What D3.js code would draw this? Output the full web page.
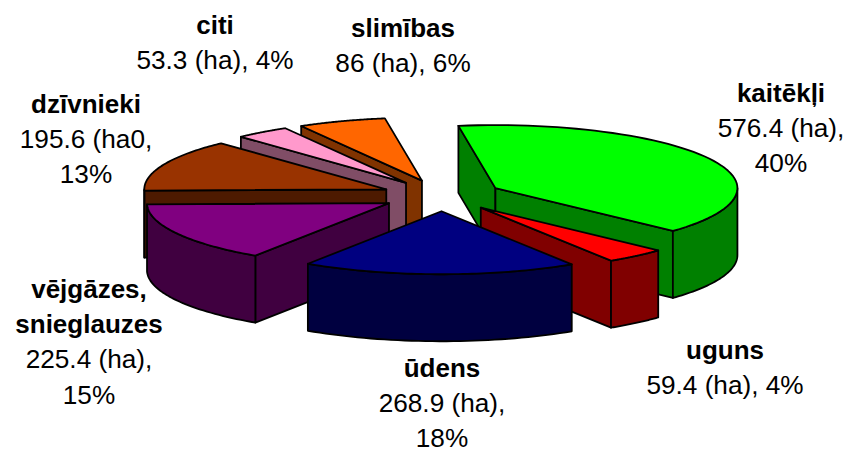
<!DOCTYPE html>
<html><head><meta charset="utf-8">
<script src="https://cdn.jsdelivr.net/npm/d3@7/dist/d3.min.js"></script>
<style>html,body{margin:0;padding:0;background:#fff}svg{display:block}</style>
</head><body><svg id="c" width="845" height="449"></svg>
<script>
const categories = ["kaitēkļi","uguns","ūdens","vējgāzes, snieglauzes","dzīvnieki","citi","slimības"];
const values = [576.4,59.4,268.9,225.4,195.6,53.3,86];
const nameLines = [["kaitēkļi"],["uguns"],["ūdens"],["vējgāzes,","snieglauzes"],["dzīvnieki"],["citi"],["slimības"]];
const valueLines = [["576.4 (ha),","40%"],["59.4 (ha), 4%"],["268.9 (ha),","18%"],["225.4 (ha),","15%"],["195.6 (ha0,","13%"],["53.3 (ha), 4%"],["86 (ha), 6%"]];
const topColors = ["#00ff00","#ff0000","#000080","#800080","#993300","#ff99cc","#ff6600"];
const sideColors = ["#008000","#800000","#000040","#400040","#4d1a00","#804d66","#803300"];

const svg = d3.select("#c");
const cx = 442, cy = 195.5, rx = 242, ry = 63, depth = 67, explode = 0.25;
const rad = d3.scaleLinear().domain([0,360]).range([0,2*Math.PI]);
const pie = d3.pie().sort(null).value(d=>d).startAngle(rad(-8.8)).endAngle(rad(351.2));
const arcs = pie(values);
const labelAt = [[781,102],[725,359],[442,377],[89,298],[86,113],[215,34],[403,37]];
const lineH = 35.2;
const drawOrder = [6,5,4,3,0,1,2];
const line = d3.line();

function pt(a, c, r=1, dz=0){ return [c[0]+rx*r*Math.sin(a), c[1]-ry*r*Math.cos(a)+dz]; }
const sty = s => s.attr("stroke","#000").attr("stroke-width",1.8).attr("stroke-linejoin","round");

drawOrder.forEach(i=>{
  const d = arcs[i], mid = (d.startAngle+d.endAngle)/2;
  const c = pt(mid,[cx,cy],explode);
  const g = svg.append("g");
  const quad = (a)=>[pt(a,c,0),pt(a,c,1),pt(a,c,1,depth),pt(a,c,0,depth)];
  if (Math.sin(d.startAngle)<0) sty(g.append("path").attr("d",line(quad(d.startAngle))+"Z").attr("fill",sideColors[i]));
  if (Math.sin(d.endAngle)>0) sty(g.append("path").attr("d",line(quad(d.endAngle))+"Z").attr("fill",sideColors[i]));
  const lo = Math.max(d.startAngle,Math.PI/2), hi = Math.min(d.endAngle,1.5*Math.PI);
  if (hi>lo){
    const as = d3.range(0,41).map(k=>lo+(hi-lo)*k/40);
    const pts = as.map(a=>pt(a,c)).concat(as.slice().reverse().map(a=>pt(a,c,1,depth)));
    sty(g.append("path").attr("d",line(pts)+"Z").attr("fill",sideColors[i]));
  }
  const n = 60, as = d3.range(0,n+1).map(k=>d.startAngle+(d.endAngle-d.startAngle)*k/n);
  const top = [pt(0,c,0)].concat(as.map(a=>pt(a,c)));
  sty(g.append("path").attr("d",line(top)+"Z").attr("fill",topColors[i]));
});

const ff = "'Liberation Sans',Arial,sans-serif";
categories.forEach((name,i)=>{
  const t = svg.append("text").attr("text-anchor","middle").attr("font-family",ff).attr("fill","#000");
  let y = labelAt[i][1];
  nameLines[i].forEach(s=>{ t.append("tspan").attr("x",labelAt[i][0]).attr("y",y).attr("font-size",26).attr("font-weight","bold").text(s); y+=lineH; });
  valueLines[i].forEach(s=>{ t.append("tspan").attr("x",labelAt[i][0]).attr("y",y).attr("font-size",26.2).text(s); y+=lineH; });
});
</script></body></html>
